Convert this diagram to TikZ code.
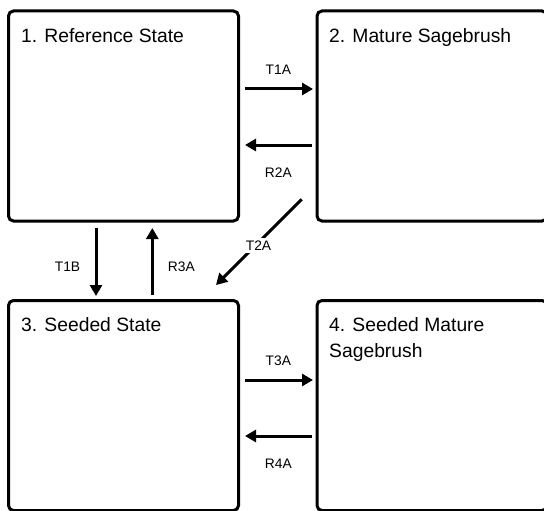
\documentclass[tikz,border=0pt]{standalone}
\usepackage{fontspec}
\setmainfont{Liberation Sans}
\usetikzlibrary{arrows.meta,calc}
\begin{document}
\begin{tikzpicture}[x=1pt,y=-1pt,
 statebox/.style={draw, line width=3pt, rounded corners=5pt, minimum width=230pt, minimum height=210pt, inner sep=0pt, outer sep=0pt, anchor=north west},
 boxtext/.style={anchor=base west, inner sep=0pt, font=\fontsize{19.3}{25.7}\selectfont, align=left},
 arr/.style={line width=3pt, -{Triangle[length=11pt,width=12pt]}},
 lbl/.style={font=\fontsize{13.8}{15}\selectfont, inner sep=1pt}
]
\useasboundingbox (0,0) rectangle (544,511);
\node[statebox] (b1) at (8.5,11) {};
\node[statebox] (b2) at (317,11) {};
\node[statebox] (b3) at (8.5,300.5) {};
\node[statebox] (b4) at (317,300.5) {};

\node[boxtext] (t1) at ($(b1.north west)+(12.5,31.5)$) {1. Reference State};
\node[boxtext] (t2) at ($(b2.north west)+(12,31.5)$) {2. Mature Sagebrush};
\node[boxtext] (t3) at ($(b3.north west)+(12.5,31.2)$) {3. Seeded State};
\node[boxtext] (t4) at ($(b4.north west)+(12,56.9)$) {4. Seeded Mature\\Sagebrush};

% horizontal arrows
\draw[arr] ($(b1.north east)+(6.5,78)$) -- ($(b2.north west)+(-4,78)$);
\draw[arr] ($(b2.north west)+(-5,134)$) -- ($(b1.north east)+(6.5,134)$);
\draw[arr] ($(b3.north east)+(6.5,79.5)$) -- ($(b4.north west)+(-4,79.5)$);
\draw[arr] ($(b4.north west)+(-5,135.5)$) -- ($(b3.north east)+(6.5,135.5)$);
% vertical arrows
\draw[arr] ($(b1.south west)+(87.5,7)$) -- ($(b3.north west)+(87.5,-4.5)$);
\draw[arr] ($(b3.north west)+(143.8,-5.5)$) -- ($(b1.south west)+(143.8,7)$);
% diagonal arrow
\draw[arr] ($(b2.south west)+(-15.3,-21.7)$) -- ($(b3.north east)+(-22.5,-15.5)$);
\node[lbl, fill=white, inner sep=3pt] (l5) at (258.5,245.5) {T2A};

\node[lbl] (l1) at (278.3,69.5) {T1A};
\node[lbl] (l2) at (278.3,172.8) {R2A};
\node[lbl] (l3) at (278.3,361) {T3A};
\node[lbl] (l4) at (278.3,463.8) {R4A};
\node[lbl] (l6) at (67.5,266.8) {T1B};
\node[lbl] (l7) at (181.3,266.8) {R3A};
\end{tikzpicture}
\end{document}
